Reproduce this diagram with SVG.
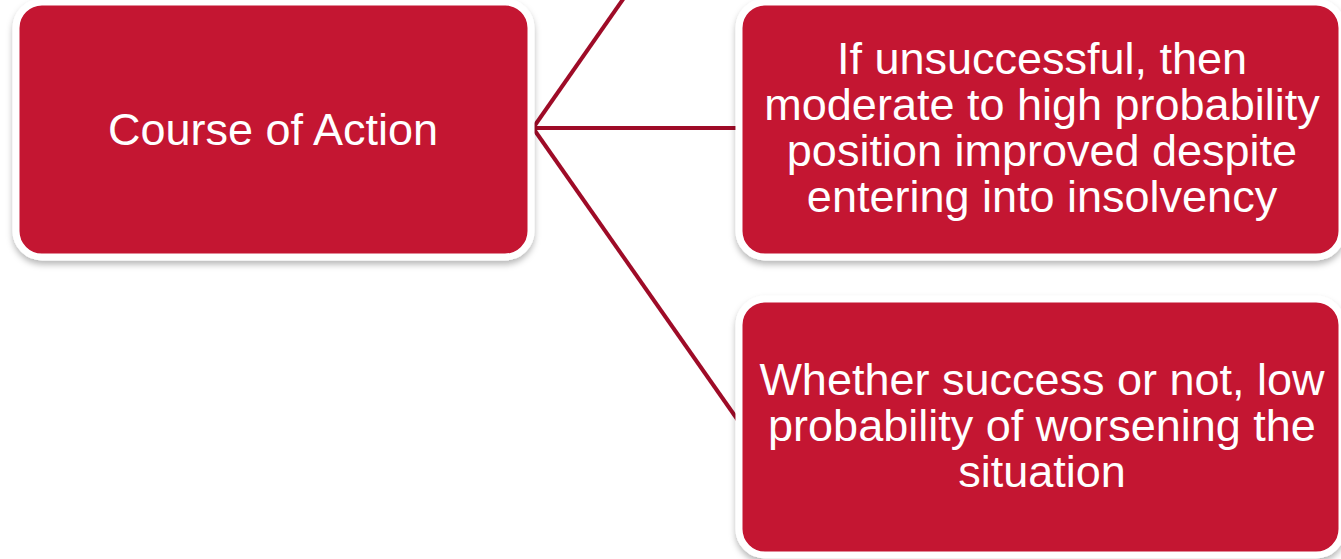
<svg xmlns="http://www.w3.org/2000/svg" width="1341" height="559" viewBox="0 0 1341 559">
<style>
.box{fill:#c41230;stroke:#ffffff;stroke-width:7;filter:url(#sh)}
.lbl{font-family:"Liberation Sans",Arial,sans-serif;font-size:45px;fill:#ffffff;text-anchor:middle}
.con{stroke:#9e0b27;stroke-width:4;fill:none}
</style>
<defs>
<filter id="sh" x="-10%" y="-10%" width="120%" height="130%">
<feDropShadow dx="0" dy="4" stdDeviation="3" flood-color="#000000" flood-opacity="0.28"/>
</filter>
</defs>
<rect width="1341" height="559" fill="#ffffff"/>
<g id="connectors">
<line class="con" x1="533" y1="128" x2="626" y2="-5"/>
<line class="con" x1="533" y1="128" x2="742" y2="128"/>
<line class="con" x1="533" y1="128" x2="742" y2="426"/>
</g>
<g id="node-course">
<rect class="box" x="16" y="2" width="515" height="255" rx="26"/>
<text class="lbl" x="273" y="145">Course of Action</text>
</g>
<g id="node-unsuccessful">
<rect class="box" x="739" y="2" width="603" height="255" rx="26"/>
<text class="lbl" x="1042" y="74">If unsuccessful, then</text>
<text class="lbl" x="1042" y="120">moderate to high probability</text>
<text class="lbl" x="1042" y="166">position improved despite</text>
<text class="lbl" x="1042" y="212">entering into insolvency</text>
</g>
<g id="node-whether">
<rect class="box" x="739" y="299" width="603" height="256" rx="26"/>
<text class="lbl" x="1042" y="395">Whether success or not, low</text>
<text class="lbl" x="1042" y="441">probability of worsening the</text>
<text class="lbl" x="1042" y="487">situation</text>
</g>
</svg>
